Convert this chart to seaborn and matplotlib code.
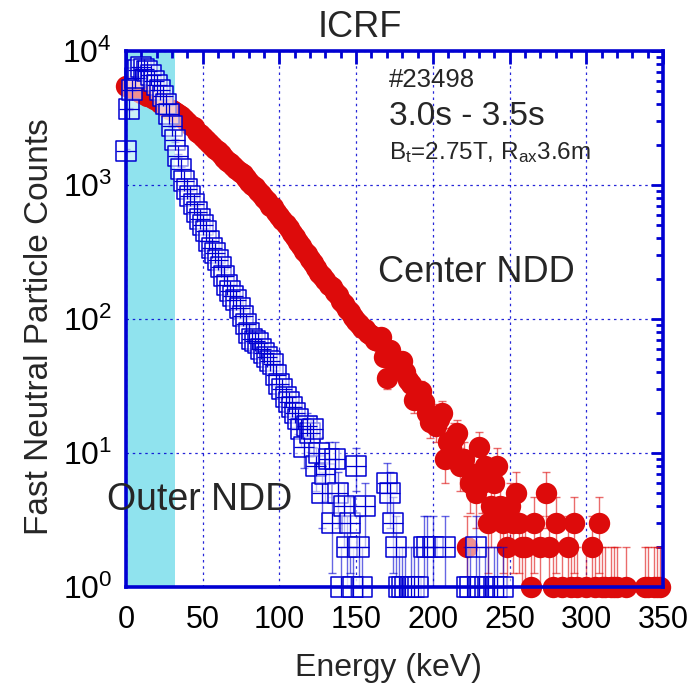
import numpy as np
import pandas as pd
import matplotlib
matplotlib.use("Agg")
import matplotlib.pyplot as plt
import seaborn as sns
from matplotlib.ticker import MultipleLocator, LogLocator, NullFormatter, FixedLocator, FixedFormatter

sns.set_style("white")
plt.rcParams["font.family"] = ["Liberation Sans", "DejaVu Sans"]
plt.rcParams["mathtext.fontset"] = "custom"
plt.rcParams["mathtext.rm"] = "Liberation Sans"
plt.rcParams["mathtext.it"] = "Liberation Sans:italic"

# ---------------- data (counts per 2 keV energy bin, 0 ... 350 keV) ----------------
BIN_KEV = 2
center_counts = [
    5500, 5400, 5300, 5100, 5000, 4900, 4800, 4650, 4550, 4400,   # 0-18 keV
    4300, 4100, 4000, 3850, 3700, 3650, 3500, 3400, 3250, 3100,   # 20-38
    2950, 2800, 2700, 2500, 2400, 2300, 2150, 2050, 1950, 1850,   # 40-58
    1800, 1700, 1600, 1520, 1450, 1390, 1310, 1260, 1200, 1120,   # 60-78
    1060, 1000, 960, 900, 850, 800, 760, 700, 680, 630,           # 80-98
    590, 545, 510, 475, 435, 410, 375, 350, 320, 305,             # 100-118
    280, 260, 240, 222, 210, 195, 180, 172, 158, 150,             # 120-138
    136, 130, 118, 113, 103, 96, 92, 86, 84, 78,                  # 140-158
    76, 70, 68, 74, 52, 36, 59, 50, 42, 46,                       # 160-178
    49, 40, 35, 33, 25, 28, 29, 24, 20, 17,                       # 180-198
    19, 16, 18, 20, 9, 12, 11, 13, 14, 8,                         # 200-218
    9, 2, 6, 7, 5, 11, 6, 8, 3, 4,                                # 220-238
    6, 8, 4, 3, 2, 4, 3, 5, 3, 2,                                 # 240-258
    2, 0, 1, 3, 0, 2, 0, 5, 2, 1,                                 # 260-278
    3, 0, 1, 0, 2, 1, 3, 1, 0, 0,                                 # 280-298
    1, 0, 2, 1, 3, 1, 1, 0, 1, 1,                                 # 300-318
    1, 0, 0, 1, 0, 0, 0, 0, 0, 1,                                 # 320-338
    1, 0, 1, 1, 1, 0,                                             # 340-350
]
outer_counts = [
    1800, 3700, 5100, 6300, 7200, 7600, 7400, 7100, 6600, 6000,   # 0-18 keV
    5600, 5100, 4600, 4000, 3400, 2750, 2150, 1660, 1320, 1070,   # 20-38
    930, 830, 720, 630, 560, 500, 450, 380, 340, 310,             # 40-58
    275, 245, 210, 178, 162, 148, 138, 120, 105, 91,              # 60-78
    78, 71, 68, 66, 60, 56, 52, 49, 46, 38,                       # 80-98
    33, 30, 26, 24, 22, 20, 18, 15, 11, 16,                       # 100-118
    14, 15, 8, 10, 5, 7, 9, 3, 9, 5,                              # 120-138
    1, 4, 2, 3, 1, 8, 2, 1, 4, 0,                                 # 140-158
    0, 0, 0, 0, 0, 6, 5, 3, 2, 1,                                 # 160-178
    1, 1, 0, 1, 1, 1, 0, 2, 2, 0,                                 # 180-198
    2, 0, 0, 0, 2, 0, 0, 0, 0, 0,                                 # 200-218
    0, 1, 1, 0, 2, 1, 0, 1, 1, 0,                                 # 220-238
    1, 1, 0, 1, 0, 0, 0, 0, 0, 0,                                 # 240-258
    0, 0, 0, 0, 0, 0, 0, 0, 0, 0,                                 # 260-278
    0, 0, 0, 0, 0, 0, 0, 0, 0, 0,                                 # 280-298
    0, 0, 0, 0, 0, 0, 0, 0, 0, 0,                                 # 300-318
    0, 0, 0, 0, 0, 0, 0, 0, 0, 0,                                 # 320-338
    0, 0, 0, 0, 0, 0,                                             # 340-350
]
assert len(center_counts) == len(outer_counts) == 176
energy_kev = np.arange(len(center_counts)) * BIN_KEV   # energy bin grid
icrf_band = [0, 32]                                    # shaded low-energy region (keV)
x_ticks = [0, 50, 100, 150, 200, 250, 300, 350]
y_ticks = [1, 10, 100, 1000, 10000]
y_tick_labels = [r"$\mathregular{10^{0}}$", r"$\mathregular{10^{1}}$", r"$\mathregular{10^{2}}$",
                 r"$\mathregular{10^{3}}$", r"$\mathregular{10^{4}}$"]

df = pd.DataFrame({
    "energy": np.concatenate([energy_kev, energy_kev]),
    "counts": np.concatenate([center_counts, outer_counts]).astype(float),
    "detector": ["Center NDD"] * len(energy_kev) + ["Outer NDD"] * len(energy_kev),
})
df = df[df["counts"] > 0].copy()
df["err"] = np.sqrt(df["counts"])
lo = df["counts"] - df["err"]
df["lo"] = np.where(lo > 0, lo, 0.05)
df["hi"] = df["counts"] + df["err"]

RED = "#DD0B0B"
BLUE = "#0000D2"
CYAN = "#90E3EE"

W, H = 700, 687
fig = plt.figure(figsize=(W / 100, H / 100), dpi=100)
ax = fig.add_axes([126 / W, 1 - 587 / H, (663 - 126) / W, (587 - 51) / H])
ax.set_yscale("log")
ax.set_xlim(0, 350)
ax.set_ylim(1, 10000)

ax.axvspan(icrf_band[0], icrf_band[1], color=CYAN, zorder=0.5, lw=0)

ms_red = 15.4
ms_blue = 15.0
cen = df[df["detector"] == "Center NDD"]
out = df[df["detector"] == "Outer NDD"]

# red error bars + circles
ax.errorbar(cen["energy"], cen["counts"],
            yerr=[cen["counts"] - cen["lo"], cen["hi"] - cen["counts"]],
            fmt="none", ecolor=RED, alpha=0.6, elinewidth=1.0, capsize=3, capthick=1.0, zorder=2)
sns.scatterplot(data=cen, x="energy", y="counts", marker="o", s=ms_red ** 2, color=RED,
                linewidth=0, ax=ax, zorder=3, clip_on=False, legend=False)

# blue error bars + squares with cross
ax.errorbar(out["energy"], out["counts"],
            yerr=[out["counts"] - out["lo"], out["hi"] - out["counts"]],
            fmt="none", ecolor=BLUE, alpha=0.6, elinewidth=1.0, capsize=3, capthick=1.0, zorder=4)
sns.scatterplot(data=out, x="energy", y="counts", marker="s", s=ms_blue ** 2,
                facecolor=(1, 1, 1, 0.55), edgecolor=BLUE, linewidth=1.1,
                ax=ax, zorder=5, clip_on=False, legend=False)
sns.scatterplot(data=out, x="energy", y="counts", marker="+", s=ms_blue ** 2, color=BLUE,
                linewidth=0.9, ax=ax, zorder=6, clip_on=False, legend=False)

# axes styling
ax.set_axisbelow("line")
for sp in ax.spines.values():
    sp.set_color(BLUE)
    sp.set_linewidth(2.6)
    sp.set_zorder(7)
ax.xaxis.set_major_locator(FixedLocator(x_ticks))
ax.xaxis.set_minor_locator(MultipleLocator(10))
ax.yaxis.set_major_locator(FixedLocator(y_ticks))
ax.yaxis.set_major_formatter(FixedFormatter(y_tick_labels))
ax.yaxis.set_minor_locator(LogLocator(base=10, subs=np.arange(2, 10)))
ax.yaxis.set_minor_formatter(NullFormatter())
ax.tick_params(which="both", direction="in", color=BLUE, top=True, right=True, width=2.0)
ax.tick_params(which="major", length=9, labelcolor="black")
ax.tick_params(axis="x", which="major", labelsize=22, pad=13)
ax.tick_params(axis="y", which="major", labelsize=23, pad=10)
ax.tick_params(which="minor", length=5)
ax.grid(True, which="major", color=BLUE, linestyle=(0, (2, 3)), linewidth=0.9, alpha=0.85)
ax.set_xlabel("")
ax.set_ylabel("")

# texts
fig.text(360 / W, 1 - 37 / H, "ICRF", ha="center", va="baseline", fontsize=26)
fig.text(388 / W, 1 - 676 / H, "Energy (keV)", ha="center", va="baseline", fontsize=23)
fig.text(40 / W, 1 - 327 / H, "Fast Neutral Particle Counts", ha="center", va="center",
         rotation=90, fontsize=24)
fig.text(389 / W, 1 - 87 / H, "#23498", ha="left", va="baseline", fontsize=18.5)
fig.text(389 / W, 1 - 125 / H, "3.0s - 3.5s", ha="left", va="baseline", fontsize=24)
fig.text(389 / W, 1 - 159 / H, r"B$_{\mathregular{t}}$=2.75T, R$_{\mathregular{ax}}$3.6m",
         ha="left", va="baseline", fontsize=17.5)
fig.text(378 / W, 1 - 282 / H, "Center NDD", ha="left", va="baseline", fontsize=26)
fig.text(107 / W, 1 - 510 / H, "Outer NDD", ha="left", va="baseline", fontsize=27, zorder=10)

fig.savefig("out.png", dpi=100)
